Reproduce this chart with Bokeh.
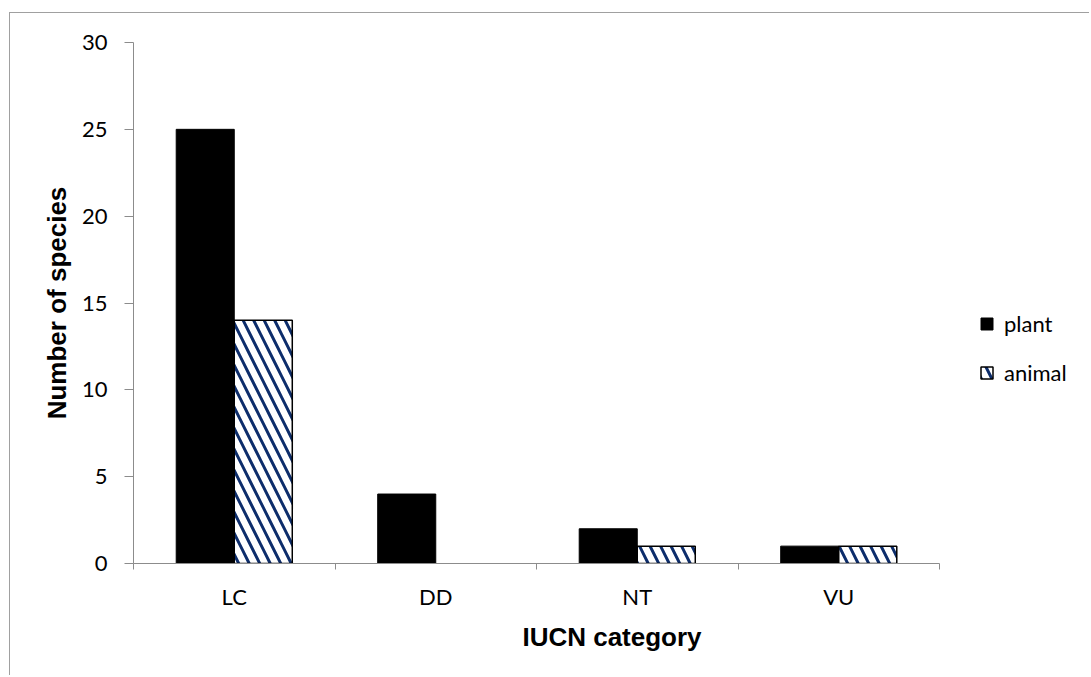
from bokeh.plotting import figure
from bokeh.models import (Range1d, LinearAxis, FixedTicker, Legend, LegendItem, ColumnDataSource)
from bokeh.embed import file_html
from bokeh.resources import INLINE

categories = ["LC", "DD", "NT", "VU"]
plant = [25, 4, 2, 1]
animal = [14, 0, 1, 1]
y_ticks = [0, 5, 10, 15, 20, 25, 30]

BAR_W = 0.288
centers = [i + 0.5 for i in range(len(categories))]
src = ColumnDataSource(dict(
    xp=[c - BAR_W / 2 for c in centers],
    xa=[c + BAR_W / 2 for c in centers],
    plant=plant,
    animal=animal,
    aline=[1 if v > 0 else 0 for v in animal],
))

GRID = "#8c8c8c"
TICK_FONT = "Lato"
TITLE_FONT = "Liberation Sans"
HATCH = "#0d2d6b"

W, H = 1080, 663
LEFT, TOP, BOTTOM = 123, 29, 113
CAT_AREA_PX = 806                      # pixel width of the category area
X_END = len(categories) * (W - LEFT) / CAT_AREA_PX   # extra room on the right for the legend

p = figure(width=W, height=H, output_backend="svg", toolbar_location=None,
           x_range=Range1d(0, X_END), y_range=Range1d(0, 30),
           x_axis_type=None, y_axis_type=None,
           min_border_left=LEFT, min_border_right=0, min_border_top=TOP,
           min_border_bottom=BOTTOM)
p.styles = {"border-top": "1px solid #a0a0a0", "border-left": "1px solid #a0a0a0",
            "margin-top": "12px", "margin-left": "9px"}
p.outline_line_color = None
p.background_fill_color = "white"
p.border_fill_color = "white"

# y axis
yax = LinearAxis(ticker=FixedTicker(ticks=y_ticks, minor_ticks=[]))
yax.axis_line_color = GRID
yax.major_tick_line_color = GRID
yax.major_tick_out = 9
yax.major_tick_in = 0
yax.major_label_standoff = 17
yax.major_label_text_font = TICK_FONT
yax.major_label_text_font_size = "22px"
yax.major_label_text_color = "black"
yax.axis_label = "Number of species"
yax.axis_label_text_font = TITLE_FONT
yax.axis_label_text_font_style = "bold"
yax.axis_label_text_font_size = "26px"
yax.axis_label_text_color = "black"
yax.axis_label_standoff = 7
p.add_layout(yax, "left")

# x axis: labels at category centers, tick marks at boundaries
xax = LinearAxis(ticker=FixedTicker(ticks=centers,
                                    minor_ticks=list(range(len(categories) + 1))),
                 bounds=(0, len(categories)))
xax.major_label_overrides = {c: cat for c, cat in zip(centers, categories)}
xax.axis_line_color = GRID
xax.major_tick_out = 0
xax.major_tick_in = 0
xax.minor_tick_line_color = GRID
xax.minor_tick_out = 6
xax.minor_tick_in = 0
xax.major_label_standoff = 13
xax.major_label_text_font = TICK_FONT
xax.major_label_text_font_size = "22px"
xax.major_label_text_color = "black"
xax.axis_label = "IUCN category"
xax.axis_label_text_font = TITLE_FONT
xax.axis_label_text_font_style = "bold"
xax.axis_label_text_font_size = "26px"
xax.axis_label_text_color = "black"
xax.axis_label_standoff = 9
p.add_layout(xax, "below")

p.xgrid.visible = False
p.ygrid.ticker = FixedTicker(ticks=y_ticks)
p.ygrid.grid_line_color = GRID
p.ygrid.grid_line_width = 1
p.ygrid.cross_bounds = (0, len(categories))

r_plant = p.vbar(x="xp", top="plant", width=BAR_W, source=src,
                 fill_color="black", line_color="black", line_width=1)
r_animal = p.vbar(x="xa", top="animal", width=BAR_W, source=src,
                  fill_color="white", line_color="black", line_width=1.5,
                  line_alpha="aline",
                  hatch_pattern="\\", hatch_color=HATCH,
                  hatch_scale=21, hatch_weight=3)

legend = Legend(items=[LegendItem(label="plant", renderers=[r_plant]),
                       LegendItem(label="animal", renderers=[r_animal])],
                location=(846, 177), padding=0, margin=0, spacing=22,
                glyph_width=15, glyph_height=15, label_standoff=10,
                label_text_font=TICK_FONT, label_text_font_size="22px",
                label_text_color="black",
                border_line_color=None, background_fill_alpha=0)
p.add_layout(legend, "center")

open("out.html", "w").write(file_html(p, INLINE))
